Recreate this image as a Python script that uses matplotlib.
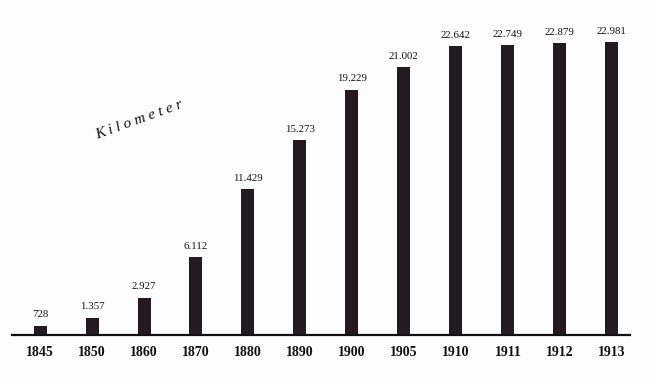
import matplotlib.pyplot as plt

plt.rcParams['font.family'] = ['Liberation Serif', 'DejaVu Serif']

# Streckenlänge in Kilometer
years = ['1845', '1850', '1860', '1870', '1880', '1890',
         '1900', '1905', '1910', '1911', '1912', '1913']
km = [728, 1357, 2927, 6112, 11429, 15273,
      19229, 21002, 22642, 22749, 22879, 22981]
labels = ['728', '1.357', '2.927', '6.112', '11.429', '15.273',
          '19.229', '21.002', '22.642', '22.749', '22.879', '22.981']

W, H = 650, 377
fig = plt.figure(figsize=(W / 100, H / 100), dpi=100)
fig.patch.set_facecolor('#fdfdfd')

# Achse in Pixeln platzieren
ax = fig.add_axes([12 / W, (H - 335) / H, 618 / W, 325 / H])
ax.set_facecolor('none')

x = list(range(len(years)))
ax.bar(x, km, width=0.25, color='#241b20', zorder=2)

for xi, v, lab in zip(x, km, labels):
    ax.text(xi, v + 500, lab, ha='center', va='bottom', fontsize=7.8, color='#111111')

ax.set_xlim(-0.54, 11.35)
ax.set_ylim(0, 25490)

ax.set_xticks(x)
ax.set_xticklabels(years, fontsize=10, fontweight='bold', color='#111111')
ax.tick_params(axis='x', length=0, pad=8)
ax.set_yticks([])

for s in ['top', 'right', 'left']:
    ax.spines[s].set_visible(False)
ax.spines['bottom'].set_linewidth(1.6)
ax.spines['bottom'].set_color('#111111')

fig.text(139 / W, 1 - 120 / H, 'K i l o m e t e r', rotation=20,
         ha='center', va='center', fontsize=11, fontstyle='italic', color='#111111')

fig.savefig('out.png', dpi=100, facecolor=fig.get_facecolor())
